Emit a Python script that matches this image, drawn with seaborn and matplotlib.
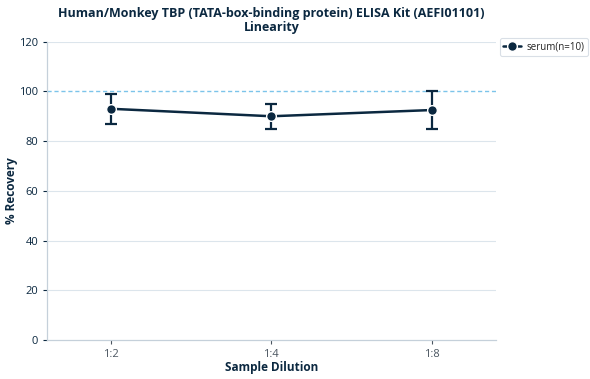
import pandas as pd
import matplotlib
matplotlib.use('Agg')
import matplotlib.pyplot as plt
import seaborn as sns

# Data
dilutions = ['1:2', '1:4', '1:8']
recovery_mean = [93.0, 90.0, 92.5]
recovery_low = [87.0, 85.0, 85.0]
recovery_high = [99.0, 95.0, 100.0]
series_label = 'serum(n=10)'

df = pd.DataFrame({
    'Sample Dilution': dilutions,
    'Recovery': recovery_mean,
    'Low': recovery_low,
    'High': recovery_high,
})
df['x'] = range(len(df))

navy = '#0b2840'
grid_col = '#dce5ec'

sns.set_theme(style='white')
plt.rcParams['font.family'] = ['Open Sans', 'DejaVu Sans']

fig, ax = plt.subplots(figsize=(5.9, 3.79), dpi=100)
fig.subplots_adjust(left=0.08, right=0.84, top=0.89, bottom=0.103)

# horizontal grid + reference line at 100%
for yv in range(20, 121, 20):
    if yv == 100:
        continue
    ax.axhline(yv, color=grid_col, lw=0.8, zorder=0)
ax.axhline(100, color='#7cc4ea', lw=1.0, ls=(0, (3, 2)), zorder=1)

yerr = [df['Recovery'] - df['Low'], df['High'] - df['Recovery']]
ax.errorbar(df['x'], df['Recovery'], yerr=yerr, fmt='none', ecolor=navy,
            elinewidth=1.6, capsize=4, capthick=1.6, zorder=3)
sns.lineplot(data=df, x='x', y='Recovery', ax=ax, color=navy, lw=1.8,
             marker='o', markersize=7, markeredgecolor='white',
             markeredgewidth=1, label=series_label, zorder=4)

ax.set_xlim(-0.4, 2.4)
ax.set_ylim(0, 120)
ax.set_xticks(df['x'])
ax.set_xticklabels(dilutions)
ax.set_yticks(range(0, 121, 20))
ax.tick_params(axis='both', labelsize=8, colors=navy, length=3,
               width=0.8, direction='out', left=True, bottom=True)
ax.tick_params(axis='x', colors='#4a5560')

for side in ['top', 'right']:
    ax.spines[side].set_visible(False)
for side in ['left', 'bottom']:
    ax.spines[side].set_color('#c5d0da')
    ax.spines[side].set_linewidth(0.9)

ax.set_xlabel('Sample Dilution', fontsize=8.5, fontweight='bold', color=navy, labelpad=1)
ax.set_ylabel('% Recovery', fontsize=8.5, fontweight='bold', color=navy)
ax.yaxis.set_label_coords(-0.066, 0.5)
ax.set_title('Human/Monkey TBP (TATA-box-binding protein) ELISA Kit (AEFI01101)\nLinearity',
             fontsize=9, fontweight='bold', color=navy, pad=8, linespacing=1.1)

leg = ax.legend(loc='upper left', bbox_to_anchor=(0.847, 0.9),
                bbox_transform=fig.transFigure, fontsize=7,
                frameon=True, handlelength=1.8, handletextpad=0.6,
                borderpad=0.35, borderaxespad=0)
leg.get_frame().set_edgecolor('#d0d8e0')
leg.get_frame().set_linewidth(0.8)
for t in leg.get_texts():
    t.set_color('#222222')

fig.savefig('out.png', dpi=100)
